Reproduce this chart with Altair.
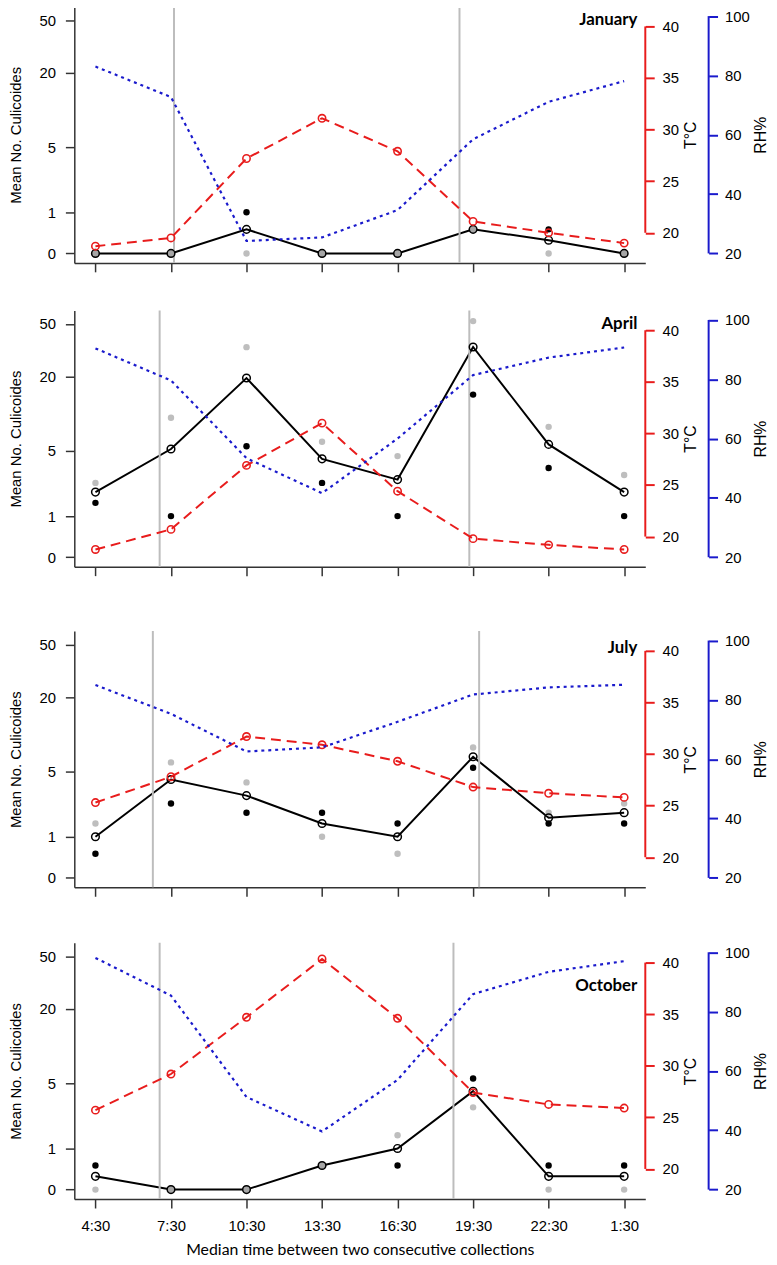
import math
import altair as alt
import pandas as pd

times = ["4:30", "7:30", "10:30", "13:30", "16:30", "19:30", "22:30", "1:30"]
months = ["January", "April", "July", "October"]
count_ticks = [0, 1, 5, 20, 50]
temp_ticks = [20, 25, 30, 35, 40]
rh_ticks = [20, 40, 60, 80, 100]

# January
jan_mean = [0, 0, 0.5, 0, 0, 0.5, 0.25, 0]
jan_yr1 = [0, 0, 1, 0, 0, 0.5, 0.5, 0]
jan_yr2 = [0, 0, 0, 0, 0, 0.5, 0, 0]
jan_temp = [18.7, 19.5, 27.2, 31.1, 27.9, 21.1, 20.0, 19.0]
jan_rh = [83.0, 72.7, 24.2, 25.4, 34.6, 58.5, 71.1, 78.1]
jan_sun = [2.04, 5.82]

# April
apr_mean = [2.0, 5.2, 19.5, 4.25, 2.7, 33.6, 5.7, 2.0]
apr_yr1 = [1.5, 1.0, 5.5, 2.5, 1.0, 14.5, 3.5, 1.0]
apr_yr2 = [2.5, 9.5, 33.5, 6.0, 4.5, 52.5, 8.0, 3.0]
apr_temp = [18.75, 20.7, 26.9, 31.0, 24.4, 19.8, 19.2, 18.75]
apr_rh = [90.4, 79.6, 53.4, 41.6, 60.0, 81.4, 87.3, 90.7]
apr_sun = [1.85, 5.95]

# July
jul_mean = [1.0, 4.25, 3.0, 1.5, 1.0, 6.7, 1.75, 2.0]
jul_yr1 = [0.5, 2.5, 2.0, 2.0, 1.5, 5.4, 1.5, 1.5]
jul_yr2 = [1.5, 6.0, 4.0, 1.0, 0.5, 8.0, 2.0, 2.5]
jul_temp = [25.3, 27.8, 31.7, 30.9, 29.3, 26.8, 26.2, 25.8]
jul_rh = [85.0, 75.3, 62.6, 64.0, 72.6, 81.8, 84.2, 85.1]
jul_sun = [1.76, 6.08]

# October
oct_mean = [0.25, 0, 0, 0.5, 1.0, 4.25, 0.25, 0.25]
oct_yr1 = [0.5, 0, 0, 0.5, 0.5, 5.5, 0.5, 0.5]
oct_yr2 = [0, 0, 0, 0.5, 1.5, 3.0, 0, 0]
oct_temp = [25.7, 29.2, 34.7, 40.35, 34.6, 27.4, 26.25, 25.9]
oct_rh = [98.1, 85.4, 51.2, 39.6, 57.0, 85.9, 93.4, 97.0]
oct_sun = [1.85, 5.74]

W, H = 577, 259
RED = "#e81c1c"
BLUE = "#1a1acc"
AX = "#333333"
FONT = "Liberation Sans"

X_PAD = 0.28
sun_domain = [1 - X_PAD, len(times) + X_PAD]
count_domain = [-0.16, 4.16]          # log(1 + n) units
temp_domain = [17.08, 41.92]
rh_domain = [16.8, 103.2]
count_tick_pos = [math.log1p(v) for v in count_ticks]


def panel(month, mean, yr1, yr2, temp, rh, sun, label_y, bottom):
    df = pd.DataFrame({"i": list(range(1, len(times) + 1)), "time": times, "mean": mean,
                       "yr1": yr1, "yr2": yr2, "temp": temp, "rh": rh})
    base = alt.Chart(df).transform_calculate(
        lm="log(1 + datum.mean)", l1="log(1 + datum.yr1)", l2="log(1 + datum.yr2)")
    xs = alt.Scale(type="point", domain=times, padding=X_PAD)
    cs = alt.Scale(domain=count_domain, nice=False, zero=False)
    ts = alt.Scale(domain=temp_domain, nice=False, zero=False)
    rs = alt.Scale(domain=rh_domain, nice=False, zero=False)

    if bottom:
        xaxis = alt.Axis(orient="bottom", tickSize=9, labelPadding=11, labelAngle=0,
                         title="Median time between two consecutive collections",
                         titleFont="Lato", titleFontSize=16, titleFontWeight="normal",
                         titlePadding=8, domainColor=AX, tickColor=AX, domainWidth=1.5,
                         tickWidth=1.5, labelFontSize=15, labelColor="black",
                         labelFont=FONT, titleColor="black")
    else:
        xaxis = alt.Axis(orient="bottom", labels=False, tickSize=9, title=None,
                         domainColor=AX, tickColor=AX, domainWidth=1.5, tickWidth=1.5)
    xn = lambda: alt.X("time:N", scale=xs, axis=None)
    order = alt.Order("i:Q")

    caxis = alt.Axis(orient="left", values=count_tick_pos,
                     labelExpr="format(exp(datum.value) - 1, '.0f')",
                     title="Mean No. Culicoides",
                     tickSize=9, labelPadding=10, titlePadding=16, domainColor=AX,
                     tickColor=AX, domainWidth=1.5, tickWidth=1.5, labelFlush=False,
                     labelOverlap=False, labelFontSize=15, titleFontSize=15,
                     titleFontWeight="normal", labelFont=FONT, titleFont=FONT,
                     labelColor="black", titleColor="black")
    taxis = alt.Axis(orient="right", values=temp_ticks, title="T°C", titleAngle=270,
                     titleBaseline="top", domain=False, tickColor=RED, tickWidth=2,
                     tickSize=9, labelPadding=8, titlePadding=4, labelFlush=False,
                     labelOverlap=False, labelFontSize=15, titleFontSize=16,
                     titleFontWeight="normal", labelFont=FONT, titleFont=FONT,
                     labelColor="black", titleColor="black")
    raxis = alt.Axis(orient="right", offset=64, values=rh_ticks, title="RH%",
                     titleAngle=270, titleBaseline="top", domain=False, tickColor=BLUE,
                     tickWidth=2, tickSize=9, labelPadding=7, titlePadding=3,
                     labelFlush=False, labelOverlap=False, labelFontSize=15,
                     titleFontSize=16, titleFontWeight="normal", labelFont=FONT,
                     titleFont=FONT, labelColor="black", titleColor="black")

    sunrule = alt.Chart(pd.DataFrame({"s": sun})).mark_rule(
        color="#bdbdbd", strokeWidth=2).encode(
        x=alt.X("s:Q", scale=alt.Scale(domain=sun_domain, nice=False, zero=False), axis=None))

    cline = base.mark_line(color="black", strokeWidth=2).encode(
        x=alt.X("time:N", scale=xs, axis=xaxis),
        y=alt.Y("lm:Q", scale=cs, axis=caxis), order=order)
    gdots = base.transform_filter("datum.yr1 != datum.yr2").mark_circle(
        color="#bebebe", size=42, opacity=1).encode(
        x=xn(), y=alt.Y("l2:Q", scale=cs, axis=None))
    bdots = base.transform_filter("datum.yr1 != datum.yr2").mark_circle(
        color="black", size=42, opacity=1).encode(
        x=xn(), y=alt.Y("l1:Q", scale=cs, axis=None))
    cmark = base.mark_point(shape="circle", filled=True, size=60, stroke="black",
                            strokeWidth=1.5, opacity=1).encode(
        x=xn(), y=alt.Y("lm:Q", scale=cs, axis=None),
        fill=alt.condition("datum.yr1 == datum.yr2", alt.value("#a6a6a6"),
                           alt.value("transparent")))

    tline = base.mark_line(color=RED, strokeDash=[10, 6], strokeWidth=2).encode(
        x=xn(), y=alt.Y("temp:Q", scale=ts, axis=taxis), order=order)
    tpts = base.mark_point(shape="circle", filled=False, color=RED, size=55,
                           strokeWidth=1.6, opacity=1).encode(
        x=xn(), y=alt.Y("temp:Q", scale=ts, axis=None))
    trule = alt.Chart(pd.DataFrame({"lo": [min(temp_ticks)], "hi": [max(temp_ticks)]})).mark_rule(
        color=RED, strokeWidth=2).encode(
        x=alt.value(W), y=alt.Y("lo:Q", scale=ts, axis=None), y2="hi:Q")

    rline = base.mark_line(color=BLUE, strokeDash=[3, 4], strokeWidth=2.2).encode(
        x=xn(), y=alt.Y("rh:Q", scale=rs, axis=raxis), order=order)
    rrule = alt.Chart(pd.DataFrame({"lo": [min(rh_ticks)], "hi": [max(rh_ticks)]})).mark_rule(
        color=BLUE, strokeWidth=2).encode(
        x=alt.value(W + 64), y=alt.Y("lo:Q", scale=rs, axis=None), y2="hi:Q")

    label = alt.Chart(pd.DataFrame({"m": [month]})).mark_text(
        font="Lato", fontWeight="bold", fontSize=17, align="right", baseline="middle",
        color="black").encode(x=alt.value(569), y=alt.value(label_y), text="m:N")

    return alt.layer(cline, sunrule, gdots, bdots, cmark, tline, tpts, trule,
                     rline, rrule, label).resolve_scale(
        x="independent", y="independent").properties(width=W, height=H)


p1 = panel(months[0], jan_mean, jan_yr1, jan_yr2, jan_temp, jan_rh, jan_sun, 14, False)
p2 = panel(months[1], apr_mean, apr_yr1, apr_yr2, apr_temp, apr_rh, apr_sun, 14, False)
p3 = panel(months[2], jul_mean, jul_yr1, jul_yr2, jul_temp, jul_rh, jul_sun, 17, False)
p4 = panel(months[3], oct_mean, oct_yr1, oct_yr2, oct_temp, oct_rh, oct_sun, 44, True)

chart = alt.vconcat(
    alt.vconcat(p1, p2, spacing=37),
    alt.vconcat(p3, p4, spacing=45),
    spacing=54,
).properties(
    padding={"left": 0, "top": -9, "right": 0, "bottom": 0}
).configure_view(stroke=None).configure_axis(grid=False)

chart.save("out.html", embed_options={"renderer": "svg", "actions": False})
